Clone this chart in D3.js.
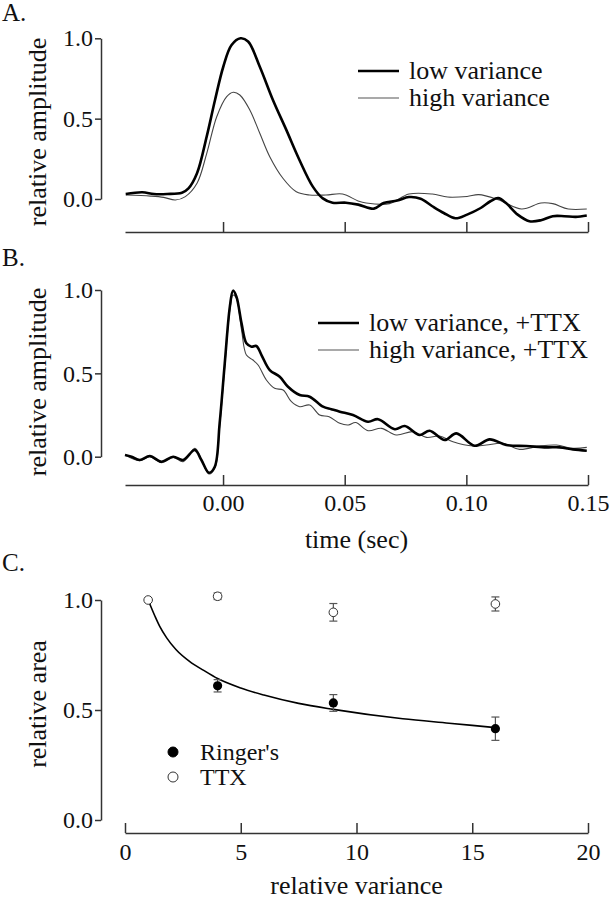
<!DOCTYPE html>
<html>
<head>
<meta charset="utf-8">
<script src="https://cdn.jsdelivr.net/npm/d3@7"></script>
<style>
  html, body { margin: 0; padding: 0; background: #fff; }
  svg { display: block; }
  svg text { font-family: "Liberation Serif", "DejaVu Serif", "Noto Serif", serif !important; fill: #111; }
</style>
</head>
<body>
<svg id="chart" width="610" height="900"></svg>
<script>
// ---------- DATA ----------
// Panel A: Ringer's, low vs high variance
const timeA_low = [-0.040, -0.0332, -0.0284, -0.023, -0.0169, -0.0142, -0.0107, -0.0067, -0.0033, 0.0001, 0.0035, 0.0072, 0.0103, 0.0151, 0.0205, 0.026, 0.0314, 0.0369, 0.041, 0.045, 0.0505, 0.0556, 0.062, 0.066, 0.0716, 0.0764, 0.0812, 0.086, 0.0907, 0.0955, 0.1003, 0.1059, 0.1099, 0.1131, 0.1163, 0.1211, 0.1259, 0.1307, 0.1355, 0.1403, 0.145, 0.1495];
const ampA_low  = [0.031, 0.042, 0.031, 0.031, 0.039, 0.066, 0.16, 0.39, 0.616, 0.823, 0.958, 1.0, 0.98, 0.823, 0.616, 0.43, 0.243, 0.077, 0.004, -0.023, -0.023, -0.035, -0.06, -0.025, -0.01, 0.012, 0.002, -0.045, -0.087, -0.12, -0.097, -0.056, -0.014, 0.006, -0.025, -0.097, -0.138, -0.132, -0.107, -0.107, -0.111, -0.103];
const timeA_high = [-0.040, -0.0298, -0.0244, -0.0196, -0.0155, -0.0107, -0.0067, -0.0026, 0.0015, 0.0042, 0.0069, 0.011, 0.0151, 0.0192, 0.0246, 0.0301, 0.0355, 0.0423, 0.0491, 0.0555, 0.0588, 0.0684, 0.0764, 0.086, 0.0923, 0.1003, 0.1051, 0.1131, 0.1227, 0.1307, 0.1355, 0.1419, 0.1495];
const ampA_high  = [0.025, 0.018, 0.01, -0.006, 0.015, 0.098, 0.284, 0.512, 0.637, 0.664, 0.647, 0.554, 0.409, 0.263, 0.129, 0.045, 0.025, 0.025, 0.031, -0.012, -0.025, -0.029, 0.031, 0.031, 0.012, 0.016, 0.027, -0.004, -0.062, -0.025, -0.029, -0.062, -0.062];

// Panel B: +TTX, low vs high variance
const timeB_low = [-0.0403, -0.0376, -0.0342, -0.0301, -0.0253, -0.0205, -0.0164, -0.0116, -0.0089, -0.0058, -0.0034, -0.0014, 0.0007, 0.0028, 0.0041, 0.0055, 0.0076, 0.0096, 0.0117, 0.0137, 0.0158, 0.0192, 0.0233, 0.0267, 0.0315, 0.0356, 0.0411, 0.0445, 0.048, 0.0534, 0.0596, 0.0637, 0.0706, 0.0747, 0.0808, 0.0849, 0.0911, 0.0959, 0.1034, 0.1096, 0.1164, 0.1247, 0.1329, 0.1383, 0.1438, 0.1495];
const ampB_low  = [0.01, 0.0, -0.02, 0.004, -0.03, 0.0, -0.02, 0.04, -0.02, -0.096, -0.06, 0.2, 0.56, 0.90, 0.996, 0.96, 0.80, 0.68, 0.66, 0.664, 0.61, 0.52, 0.48, 0.42, 0.37, 0.36, 0.30, 0.285, 0.27, 0.25, 0.21, 0.225, 0.165, 0.184, 0.13, 0.156, 0.10, 0.14, 0.066, 0.104, 0.07, 0.064, 0.056, 0.056, 0.044, 0.036];
const timeB_high = [-0.0403, -0.0342, -0.0301, -0.0253, -0.0205, -0.0164, -0.0116, -0.0089, -0.0058, -0.0034, -0.0014, 0.0007, 0.0028, 0.0041, 0.0055, 0.0076, 0.0096, 0.0123, 0.0144, 0.0178, 0.0212, 0.0247, 0.0281, 0.0315, 0.0356, 0.0397, 0.0436, 0.048, 0.0515, 0.0545, 0.0596, 0.0651, 0.0712, 0.0781, 0.0836, 0.089, 0.0945, 0.1027, 0.1082, 0.115, 0.1219, 0.1301, 0.137, 0.1438, 0.1495];
const ampB_high  = [0.01, -0.024, 0.0, -0.036, -0.004, -0.03, 0.05, -0.016, -0.104, -0.07, 0.18, 0.54, 0.88, 0.97, 0.95, 0.76, 0.61, 0.58, 0.55, 0.46, 0.41, 0.40, 0.33, 0.30, 0.31, 0.25, 0.24, 0.20, 0.19, 0.205, 0.156, 0.17, 0.13, 0.15, 0.116, 0.124, 0.09, 0.064, 0.07, 0.08, 0.044, 0.064, 0.07, 0.05, 0.056];

// Panel C: relative area vs relative variance
const ringerVariance = [4, 9, 16];
const ringerArea     = [0.61, 0.532, 0.415];
const ringerErr      = [0.028, 0.038, 0.053];
const ttxVariance    = [1, 4, 9, 16];
const ttxArea        = [1.0, 1.017, 0.944, 0.982];
const ttxErr         = [0, 0.015, 0.04, 0.032];
const fitVariance    = [1, 1.3, 1.5, 1.8, 2.2, 2.8, 3.4, 4, 5, 6, 7.5, 9, 12, 14, 16];
const fitArea        = [1.0, 0.925, 0.88, 0.828, 0.775, 0.72, 0.68, 0.643, 0.60, 0.568, 0.53, 0.503, 0.46, 0.44, 0.42];

// Ticks and labels
const timeTicks     = [0, 0.05, 0.10, 0.15];
const ampTicks      = [0, 0.5, 1.0];
const varianceTicks = [0, 5, 10, 15, 20];
const areaTicks     = [0, 0.5, 1.0];
const legendA = ["low variance", "high variance"];
const legendB = ["low variance, +TTX", "high variance, +TTX"];
const legendC = ["Ringer's", "TTX"];

// ---------- DRAWING ----------
const FONT = "'Liberation Serif', 'DejaVu Serif', 'Noto Serif', serif";
const svg = d3.select("#chart");
const axisColor = "#333";
const X0 = 125, X1 = 588;

function txt(sel) { return sel.attr("font-family", FONT).style("font-family", FONT); }

function styleAxis(g) {
  g.attr("font-family", FONT);
  g.selectAll("path.domain").attr("stroke", axisColor).attr("stroke-width", 1.5);
  g.selectAll(".tick line").attr("stroke", axisColor).attr("stroke-width", 1.5);
  txt(g.selectAll(".tick text")).attr("font-size", 24).attr("fill", "#111");
}

const xTime = d3.scaleLinear().domain([-0.0403, 0.15]).range([X0, X1]);
const line = (ys) => d3.line().x(d => xTime(d[0])).y(d => ys(d[1])).curve(d3.curveCatmullRom.alpha(0.5));

function tracePanel(opts) {
  const y = d3.scaleLinear().domain([0, 1]).range([opts.y0, opts.y1]);
  txt(svg.append("text").attr("x", 2).attr("y", opts.titleY).attr("font-size", 25)).text(opts.title);
  const gy = svg.append("g").attr("transform", "translate(101,0)")
    .call(d3.axisLeft(y).tickValues(ampTicks).tickFormat(d3.format(".1f")).tickSize(6).tickSizeOuter(0).tickPadding(2));
  styleAxis(gy);
  txt(svg.append("text").attr("transform", `translate(46,${opts.labelY}) rotate(-90)`)
    .attr("text-anchor", "middle").attr("font-size", 26)).text("relative amplitude");
  const gx = svg.append("g").attr("transform", `translate(0,${opts.xAxisY})`)
    .call(d3.axisBottom(xTime).tickValues(timeTicks).tickFormat(d3.format(".2f")).tickSize(-10).tickSizeOuter(0).tickPadding(9));
  styleAxis(gx);
  if (!opts.showTickLabels) gx.selectAll(".tick text").remove();
  const thin = d3.zip(opts.tHigh, opts.vHigh);
  const thick = d3.zip(opts.tLow, opts.vLow);
  svg.append("path").datum(thin).attr("d", line(y)).attr("fill", "none").attr("stroke", "#444").attr("stroke-width", 1.1);
  svg.append("path").datum(thick).attr("d", line(y)).attr("fill", "none").attr("stroke", "#000").attr("stroke-width", 2.6);
  opts.legend.forEach((lab, i) => {
    const ly = opts.legY + i * 27;
    svg.append("line").attr("x1", opts.legX).attr("x2", opts.legX + 41).attr("y1", ly).attr("y2", ly)
      .attr("stroke", i === 0 ? "#000" : "#555").attr("stroke-width", i === 0 ? 2.6 : 1.1);
    txt(svg.append("text").attr("x", opts.legX + 51).attr("y", ly + 8).attr("font-size", 26)).text(lab);
  });
  return y;
}

tracePanel({
  title: "A.", titleY: 21, y0: 199, y1: 38.3, xAxisY: 232, labelY: 132,
  tLow: timeA_low, vLow: ampA_low, tHigh: timeA_high, vHigh: ampA_high,
  legend: legendA, legX: 358, legY: 71, showTickLabels: false
});

tracePanel({
  title: "B.", titleY: 266, y0: 456.7, y1: 290, xAxisY: 485, labelY: 382,
  tLow: timeB_low, vLow: ampB_low, tHigh: timeB_high, vHigh: ampB_high,
  legend: legendB, legX: 318, legY: 323, showTickLabels: true
});

txt(svg.append("text").attr("x", (X0 + X1) / 2).attr("y", 548).attr("text-anchor", "middle")
  .attr("font-size", 26)).text("time (sec)");

// ---------- Panel C ----------
const xVar = d3.scaleLinear().domain([0, 20]).range([X0, X1]);
const yArea = d3.scaleLinear().domain([0, 1]).range([820, 600]);

txt(svg.append("text").attr("x", 2).attr("y", 571).attr("font-size", 25)).text("C.");

const gyC = svg.append("g").attr("transform", "translate(101,0)")
  .call(d3.axisLeft(yArea).tickValues(areaTicks).tickFormat(d3.format(".1f")).tickSize(6).tickSizeOuter(0).tickPadding(2));
styleAxis(gyC);
const gxC = svg.append("g").attr("transform", "translate(0,833)")
  .call(d3.axisBottom(xVar).tickValues(varianceTicks).tickFormat(d3.format("d")).tickSize(-10).tickSizeOuter(0).tickPadding(10));
styleAxis(gxC);

txt(svg.append("text").attr("transform", "translate(46,704) rotate(-90)")
  .attr("text-anchor", "middle").attr("font-size", 26)).text("relative area");
txt(svg.append("text").attr("x", (X0 + X1) / 2).attr("y", 894).attr("text-anchor", "middle")
  .attr("font-size", 26)).text("relative variance");

svg.append("path").datum(d3.zip(fitVariance, fitArea))
  .attr("d", d3.line().x(d => xVar(d[0])).y(d => yArea(d[1])).curve(d3.curveMonotoneX))
  .attr("fill", "none").attr("stroke", "#000").attr("stroke-width", 1.6);

function errorBars(xs, ys, es) {
  const g = svg.append("g").attr("stroke", "#555").attr("stroke-width", 1.2);
  xs.forEach((xv, i) => {
    if (es[i] <= 0) return;
    const cx = xVar(xv), top = yArea(ys[i] + es[i]), bot = yArea(ys[i] - es[i]);
    g.append("line").attr("x1", cx).attr("x2", cx).attr("y1", top).attr("y2", bot);
    g.append("line").attr("x1", cx - 4).attr("x2", cx + 4).attr("y1", top).attr("y2", top);
    g.append("line").attr("x1", cx - 4).attr("x2", cx + 4).attr("y1", bot).attr("y2", bot);
  });
}
errorBars(ringerVariance, ringerArea, ringerErr);
errorBars(ttxVariance, ttxArea, ttxErr);

svg.append("g").selectAll("circle").data(d3.zip(ringerVariance, ringerArea)).join("circle")
  .attr("cx", d => xVar(d[0])).attr("cy", d => yArea(d[1])).attr("r", 4.6).attr("fill", "#000");
svg.append("g").selectAll("circle").data(d3.zip(ttxVariance, ttxArea)).join("circle")
  .attr("cx", d => xVar(d[0])).attr("cy", d => yArea(d[1])).attr("r", 4.3)
  .attr("fill", "#fff").attr("stroke", "#333").attr("stroke-width", 1);

legendC.forEach((lab, i) => {
  const ly = 752 + i * 25;
  svg.append("circle").attr("cx", 173).attr("cy", ly).attr("r", 5)
    .attr("fill", i === 0 ? "#000" : "#fff").attr("stroke", i === 0 ? "#000" : "#333").attr("stroke-width", 1);
  txt(svg.append("text").attr("x", 200).attr("y", ly + 8).attr("font-size", 24)).text(lab);
});
</script>
</body>
</html>
